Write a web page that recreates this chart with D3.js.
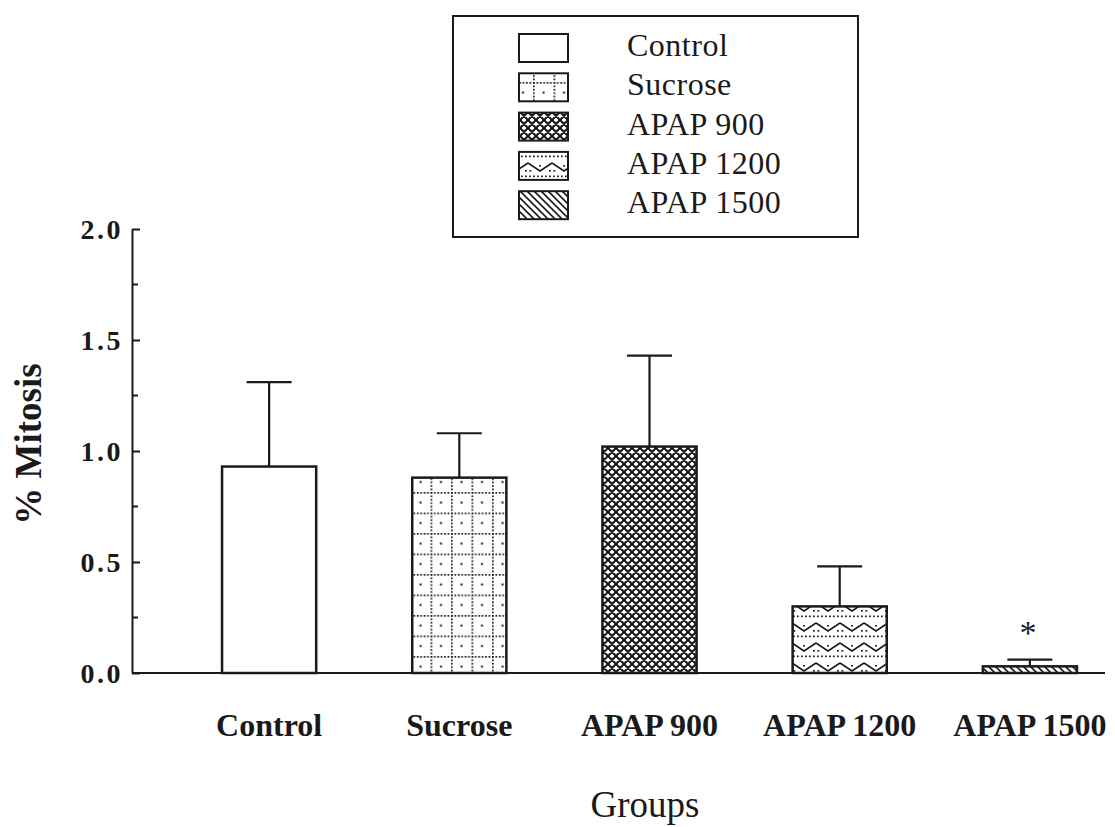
<!DOCTYPE html>
<html>
<head>
<meta charset="utf-8">
<script src="https://cdn.jsdelivr.net/npm/d3@7/dist/d3.min.js"></script>
<style>
  html, body { margin: 0; padding: 0; background: #fff; }
  svg { display: block; }
  text { font-family: "Liberation Serif", "Times New Roman", serif; fill: #1a1a1a; }
</style>
</head>
<body>
<svg id="chart" width="1115" height="827"></svg>
<script>
// Mitotic index per treatment group (mean and SEM)
const categories = ["Control", "Sucrose", "APAP 900", "APAP 1200", "APAP 1500"];
const means = [0.93, 0.88, 1.02, 0.30, 0.03];
const sems = [0.38, 0.20, 0.41, 0.18, 0.03];
const significant = [false, false, false, false, true];
const yTicks = [0, 0.5, 1.0, 1.5, 2.0];
const yMinorTicks = [0.25, 0.75, 1.25, 1.75];
const patternIds = ["pat-none", "pat-dots", "pat-cross", "pat-zigzag", "pat-hatch"];

const ink = "#1a1a1a";
const svg = d3.select("#chart");
const defs = svg.append("defs");

// --- fill patterns ---
// dotted grid with a dot in the middle of each cell
const pDots = defs.append("pattern").attr("id", "pat-dots")
  .attr("patternUnits", "userSpaceOnUse").attr("width", 20.5).attr("height", 20.5);
for (let i = 0; i < 6; i++) {
  pDots.append("rect").attr("x", i * 3.42).attr("y", 0).attr("width", 1.7).attr("height", 1.7).attr("fill", ink);
  pDots.append("rect").attr("x", 0).attr("y", i * 3.42).attr("width", 1.7).attr("height", 1.7).attr("fill", ink);
}
pDots.append("rect").attr("x", 9.5).attr("y", 9.5).attr("width", 2).attr("height", 2).attr("fill", ink);

// dense cross-hatch
const pCross = defs.append("pattern").attr("id", "pat-cross")
  .attr("patternUnits", "userSpaceOnUse").attr("width", 8).attr("height", 8);
pCross.append("rect").attr("width", 8).attr("height", 8).attr("fill", "#fff");
pCross.append("path")
  .attr("d", "M0,0 L8,8 M8,0 L0,8 M-1,7 L1,9 M7,-1 L9,1 M-1,1 L1,-1 M7,9 L9,7")
  .attr("stroke", ink).attr("stroke-width", 2.1).attr("fill", "none");

// zig-zag rows with dots
const pZig = defs.append("pattern").attr("id", "pat-zigzag")
  .attr("patternUnits", "userSpaceOnUse").attr("width", 24).attr("height", 20);
pZig.append("path").attr("d", "M0,3 L12,11 L24,3")
  .attr("stroke", ink).attr("stroke-width", 1.7).attr("fill", "none");
for (let i = 0; i < 6; i++) {
  pZig.append("rect").attr("x", i * 4 + 1).attr("y", 15.5).attr("width", 1.7).attr("height", 1.7).attr("fill", ink);
}
pZig.append("rect").attr("x", 11.2).attr("y", 5).attr("width", 1.7).attr("height", 1.7).attr("fill", ink);
pZig.append("rect").attr("x", 1.5).attr("y", 10).attr("width", 1.7).attr("height", 1.7).attr("fill", ink);
pZig.append("rect").attr("x", 21).attr("y", 10).attr("width", 1.7).attr("height", 1.7).attr("fill", ink);

// diagonal hatch
const pHatch = defs.append("pattern").attr("id", "pat-hatch")
  .attr("patternUnits", "userSpaceOnUse").attr("width", 7).attr("height", 7);
pHatch.append("path").attr("d", "M-1,-1 L8,8 M-1,6 L1,8 M6,-1 L8,1")
  .attr("stroke", ink).attr("stroke-width", 1.6).attr("fill", "none");

function fillFor(i) {
  return i === 0 ? "#fff" : `url(#${patternIds[i]})`;
}

// --- scales ---
const y = d3.scaleLinear().domain([0, 2]).range([673, 229]);
const x = d3.scaleBand().domain(categories)
  .range([174.5, 1124.5]).paddingInner(0.505).paddingOuter(0.25);
const axisX0 = 132, axisX1 = 1105;

// --- y axis ---
const gy = svg.append("g").attr("transform", `translate(${axisX0},0)`)
  .call(d3.axisLeft(y).tickValues(yTicks).tickFormat(d3.format(".1f"))
    .tickSize(-8).tickSizeOuter(0).tickPadding(9));
gy.select(".domain").attr("stroke", ink).attr("stroke-width", 2);
gy.selectAll(".tick line").attr("stroke", ink).attr("stroke-width", 2);
gy.selectAll(".tick text")
  .attr("font-family", "Liberation Serif").attr("font-size", 28).attr("font-weight", "bold")
  .attr("letter-spacing", 2.5).attr("fill", ink).attr("dy", "0.34em");
gy.selectAll(".minor").data(yMinorTicks).enter().append("line")
  .attr("class", "minor")
  .attr("x1", 0).attr("x2", 6).attr("y1", d => y(d)).attr("y2", d => y(d))
  .attr("stroke", ink).attr("stroke-width", 2);

// --- bars ---
const bars = svg.append("g");
bars.selectAll("rect").data(categories).enter().append("rect")
  .attr("x", d => x(d))
  .attr("y", (d, i) => y(means[i]))
  .attr("width", x.bandwidth())
  .attr("height", (d, i) => y(0) - y(means[i]))
  .attr("fill", (d, i) => fillFor(i))
  .attr("stroke", ink).attr("stroke-width", 2.5);

// --- error bars (upper only) ---
const capHalf = 22.5;
const err = svg.append("g").attr("stroke", ink).attr("stroke-width", 2.2);
categories.forEach((c, i) => {
  const cx = x(c) + x.bandwidth() / 2;
  err.append("line").attr("x1", cx).attr("x2", cx)
    .attr("y1", y(means[i])).attr("y2", y(means[i] + sems[i]));
  err.append("line").attr("x1", cx - capHalf).attr("x2", cx + capHalf)
    .attr("y1", y(means[i] + sems[i])).attr("y2", y(means[i] + sems[i]));
  if (significant[i]) {
    svg.append("text").attr("x", cx - 2).attr("y", y(means[i] + sems[i]) - 16)
      .attr("text-anchor", "middle").attr("font-size", 34).text("*");
  }
});

// --- x axis ---
svg.append("line").attr("x1", axisX0).attr("x2", axisX1)
  .attr("y1", y(0)).attr("y2", y(0)).attr("stroke", ink).attr("stroke-width", 2.2);
const gx = svg.append("g").attr("transform", `translate(0,${y(0)})`)
  .call(d3.axisBottom(x).tickSize(0).tickPadding(0));
gx.select(".domain").remove();
gx.selectAll(".tick text")
  .attr("font-family", "Liberation Serif").attr("font-size", 32).attr("font-weight", "bold")
  .attr("fill", ink).attr("y", 63).attr("dy", 0);

// --- axis titles ---
svg.append("text").attr("x", 645).attr("y", 817).attr("text-anchor", "middle")
  .attr("font-size", 37).text("Groups");
svg.append("text").attr("transform", "translate(41,444) rotate(-90)")
  .attr("text-anchor", "middle").attr("font-size", 37).attr("font-weight", "bold")
  .text("% Mitosis");

// --- legend ---
const legend = svg.append("g");
legend.append("rect").attr("x", 453).attr("y", 16).attr("width", 405).attr("height", 221)
  .attr("fill", "#fff").attr("stroke", ink).attr("stroke-width", 2);
const rowStep = 39.3;
categories.forEach((c, i) => {
  legend.append("rect").attr("x", 519).attr("y", 34 + i * rowStep)
    .attr("width", 49).attr("height", 28)
    .attr("fill", fillFor(i)).attr("stroke", ink).attr("stroke-width", 2);
  legend.append("text").attr("x", 627).attr("y", 56 + i * rowStep)
    .attr("font-size", 32).attr("letter-spacing", 0.5).text(c);
});
</script>
</body>
</html>
